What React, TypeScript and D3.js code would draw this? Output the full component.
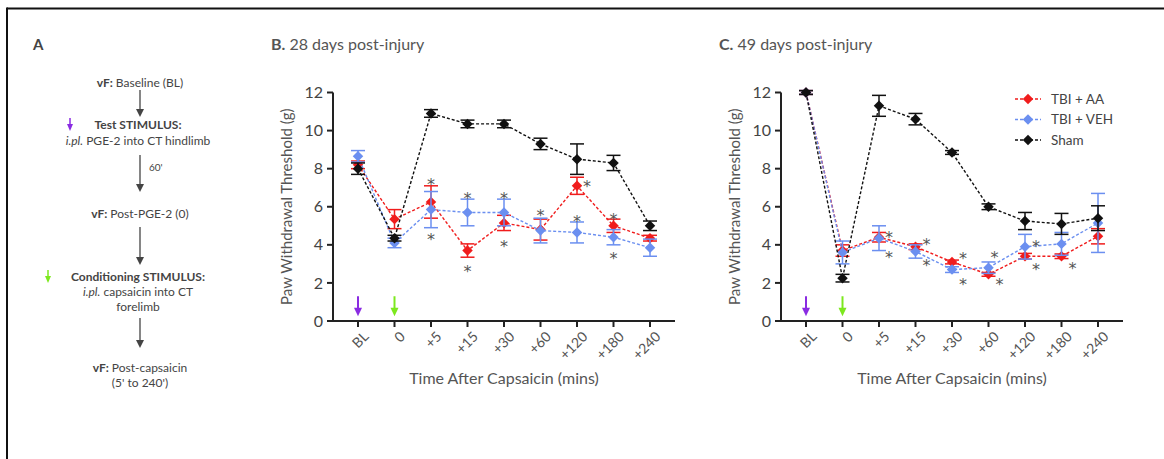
import React from 'react';
import * as d3 from 'd3';

// x categories shared by both panels
const timePoints = ['BL', '0', '+5', '+15', '+30', '+60', '+120', '+180', '+240'];
const yTicks = [0, 2, 4, 6, 8, 10, 12];

// B. 28 days post-injury
const b28AA = [8.2, 5.35, 6.25, 3.7, 5.15, 4.8, 7.1, 5.0, 4.35];
const b28AAErr = [0.2, 0.5, 0.85, 0.35, 0.4, 0.55, 0.45, 0.35, 0.15];
const b28VEH = [8.65, 4.1, 5.85, 5.7, 5.7, 4.75, 4.65, 4.4, 3.85];
const b28VEHErr = [0.3, 0.25, 0.95, 0.7, 0.7, 0.65, 0.55, 0.4, 0.45];
const b28Sham = [8.0, 4.35, 10.9, 10.35, 10.35, 9.3, 8.5, 8.3, 5.0];
const b28ShamErr = [0.3, 0.15, 0.2, 0.2, 0.2, 0.3, 0.8, 0.4, 0.25];
// asterisks: [time index, x nudge, y value]
const b28Stars = [
  [2, 0, 7.5], [2, 0, 4.6], [3, 0, 6.75], [3, 0, 2.95], [4, 0, 6.75], [4, 0, 4.26],
  [5, 0, 5.88], [6, 0, 5.58], [6, 10, 7.4], [7, 0, 5.68], [7, 0, 3.6],
];

// C. 49 days post-injury
const c49AA = [12.0, 3.7, 4.4, 3.9, 3.1, 2.45, 3.4, 3.4, 4.45];
const c49AAErr = [0.1, 0.3, 0.25, 0.15, 0.1, 0.1, 0.15, 0.12, 0.4];
const c49VEH = [12.0, 3.6, 4.35, 3.65, 2.7, 2.8, 3.9, 4.05, 5.15];
const c49VEHErr = [0.1, 0.6, 0.65, 0.35, 0.15, 0.3, 0.65, 0.6, 1.55];
const c49Sham = [12.0, 2.25, 11.3, 10.6, 8.85, 6.0, 5.25, 5.1, 5.4];
const c49ShamErr = [0.1, 0.2, 0.55, 0.3, 0.1, 0.15, 0.45, 0.55, 0.65];
const c49Stars = [
  [2, 10, 4.75], [2, 10, 3.65], [3, 11, 4.35], [3, 11, 3.25], [4, 11, 3.6], [4, 11, 2.25],
  [5, 6, 3.66], [5, 11, 2.25], [6, 11, 4.23], [6, 11, 3.04], [7, 11, 3.08],
];

const legendNames = ['TBI + AA', 'TBI + VEH', 'Sham'];
const colors = ['#f01c1c', '#6b8ff0', '#111111'];

const FONT = 'Lato, "Open Sans", sans-serif';
const TXT = '#555';
const diamond = d3.symbol().type(d3.symbolDiamond2).size(70)();

function Panel(props) {
  const { left, title, series, errs, stars, showLegend } = props;
  const x0 = left;
  const x = d3.scalePoint().domain(timePoints).range([x0 + 25, x0 + 317]);
  const y = d3.scaleLinear().domain([0, 12]).range([321, 92.5]);
  const line = d3.line().x((d, i) => x(timePoints[i])).y(d => y(d));

  return (
    <g fontFamily={FONT}>
      <text x={x0 - 62} y={50} fontSize={16} fill={TXT}>
        <tspan fontWeight="bold">{title[0]}</tspan>
        <tspan>{title[1]}</tspan>
      </text>
      {/* axes */}
      <line x1={x0} x2={x0} y1={y(12)} y2={y(0) + 1} stroke="#222" strokeWidth={2} />
      <line x1={x0} x2={x0 + 342} y1={y(0)} y2={y(0)} stroke="#222" strokeWidth={2} />
      {yTicks.map(t => (
        <g key={t}>
          <line x1={x0 - 6} x2={x0} y1={y(t)} y2={y(t)} stroke="#222" strokeWidth={2} />
          <text x={x0 - 10} y={y(t)} dy="0.35em" textAnchor="end" fontSize={16} fill="#444">{t}</text>
        </g>
      ))}
      {timePoints.map(t => (
        <g key={t}>
          <line x1={x(t)} x2={x(t)} y1={y(0)} y2={y(0) + 6} stroke="#222" strokeWidth={2} />
          <text transform={`translate(${x(t) + 8},${y(0) + 13}) rotate(-45)`} textAnchor="end"
            dy="0.35em" fontSize={14} fill={TXT}>{t}</text>
        </g>
      ))}
      <text x={(x0 + x0 + 342) / 2} y={384} textAnchor="middle" fontSize={16} fill={TXT}>
        Time After Capsaicin (mins)
      </text>
      <text transform={`translate(${x0 - 41},${(y(0) + y(12)) / 2}) rotate(-90)`} textAnchor="middle"
        fontSize={15} fill={TXT}>Paw Withdrawal Threshold (g)</text>
      {/* stimulus arrows */}
      {[['BL', '#8a2be2'], ['0', '#7de81e']].map(([t, c]) => (
        <g key={t}>
          <line x1={x(t)} x2={x(t)} y1={y(1.3)} y2={y(0.6)} stroke={c} strokeWidth={2} />
          <path d={`M${x(t) - 4},${y(0.7)} L${x(t) + 4},${y(0.7)} L${x(t)},${y(0.25)} Z`} fill={c} />
        </g>
      ))}
      {/* series */}
      {series.map((vals, si) => (
        <g key={si}>
          <path d={line(vals)} fill="none" stroke={colors[si]} strokeWidth={1.4} strokeDasharray="3,2" />
          {vals.map((v, i) => {
            const cx = x(timePoints[i]);
            const e = errs[si][i];
            return (
              <g key={i} stroke={colors[si]} strokeWidth={1.5}>
                <line x1={cx} x2={cx} y1={y(v + e)} y2={y(v - e)} />
                <line x1={cx - 7} x2={cx + 7} y1={y(v + e)} y2={y(v + e)} />
                <line x1={cx - 7} x2={cx + 7} y1={y(v - e)} y2={y(v - e)} />
              </g>
            );
          })}
          {vals.map((v, i) => (
            <path key={'m' + i} d={diamond} transform={`translate(${x(timePoints[i])},${y(v)})`} fill={colors[si]} />
          ))}
        </g>
      ))}
      {stars.map(([i, dx, v], k) => (
        <text key={k} x={x(timePoints[i]) + dx} y={y(v)} dy="0.75em" textAnchor="middle" fontSize={16}
          fontFamily='"DejaVu Sans", sans-serif' fill="#555">*</text>
      ))}
      {showLegend && legendNames.map((n, i) => (
        <g key={n} transform={`translate(1015,${99 + i * 20.5})`}>
          <line x1={0} x2={26} y1={0} y2={0} stroke={colors[i]} strokeWidth={1.4} strokeDasharray="3,2" />
          <path d={diamond} transform="translate(13,0)" fill={colors[i]} />
          <text x={36} y={0} dy="0.35em" fontSize={13.5} fill="#444">{n}</text>
        </g>
      ))}
    </g>
  );
}

function FlowA() {
  const cx = 140;
  const arrows = [[90, 117], [155, 192], [227, 265], [318, 348]];
  return (
    <g fontFamily={FONT} fontSize={12} fill="#444" textAnchor="middle">
      <text x={33} y={50} fontSize={15} fontWeight="bold" textAnchor="start">A</text>
      <text x={cx} y={83} dy="0.35em"><tspan fontWeight="bold">vF:</tspan> Baseline (BL)</text>
      <text x={138} y={125} dy="0.35em" fontWeight="bold">Test STIMULUS:</text>
      <text x={138} y={141} dy="0.35em"><tspan fontStyle="italic">i.pl.</tspan> PGE-2 into CT hindlimb</text>
      <text x={149} y={167} dy="0.35em" fontSize={10} textAnchor="start">60'</text>
      <text x={cx} y={214} dy="0.35em"><tspan fontWeight="bold">vF:</tspan> Post-PGE-2 (0)</text>
      <text x={138} y={277} dy="0.35em" fontWeight="bold">Conditioning STIMULUS:</text>
      <text x={138} y={292} dy="0.35em"><tspan fontStyle="italic">i.pl.</tspan> capsaicin into CT</text>
      <text x={138} y={307} dy="0.35em">forelimb</text>
      <text x={cx} y={368} dy="0.35em"><tspan fontWeight="bold">vF:</tspan> Post-capsaicin</text>
      <text x={cx} y={383} dy="0.35em">(5' to 240')</text>
      {arrows.map(([a, b], i) => (
        <g key={i}>
          <line x1={cx} x2={cx} y1={a} y2={b - 6} stroke="#444" strokeWidth={1.3} />
          <path d={`M${cx - 4},${b - 8} L${cx + 4},${b - 8} L${cx},${b} Z`} fill="#444" />
        </g>
      ))}
      {[[70, 125, '#8a2be2'], [48, 277, '#7de81e']].map(([ax, ay, c]) => (
        <g key={c}>
          <line x1={ax} x2={ax} y1={ay - 7} y2={ay} stroke={c} strokeWidth={1.5} />
          <path d={`M${ax - 3},${ay - 1} L${ax + 3},${ay - 1} L${ax},${ay + 6} Z`} fill={c} />
        </g>
      ))}
    </g>
  );
}

export default function App() {
  return (
    <svg width={1164} height={459} style={{ position: 'absolute', left: 0, top: 0, background: '#fff' }}>
      <rect x={0} y={0} width={1164} height={459} fill="#fff" />
      <line x1={7} x2={1164} y1={8.5} y2={8.5} stroke="#111" strokeWidth={2} />
      <line x1={7} x2={7} y1={7.5} y2={459} stroke="#111" strokeWidth={2} />
      <FlowA />
      <Panel left={333} title={['B.', ' 28 days post-injury']}
        series={[b28AA, b28VEH, b28Sham]} errs={[b28AAErr, b28VEHErr, b28ShamErr]} stars={b28Stars} />
      <Panel left={781} title={['C.', ' 49 days post-injury']}
        series={[c49AA, c49VEH, c49Sham]} errs={[c49AAErr, c49VEHErr, c49ShamErr]} stars={c49Stars} showLegend />
    </svg>
  );
}
